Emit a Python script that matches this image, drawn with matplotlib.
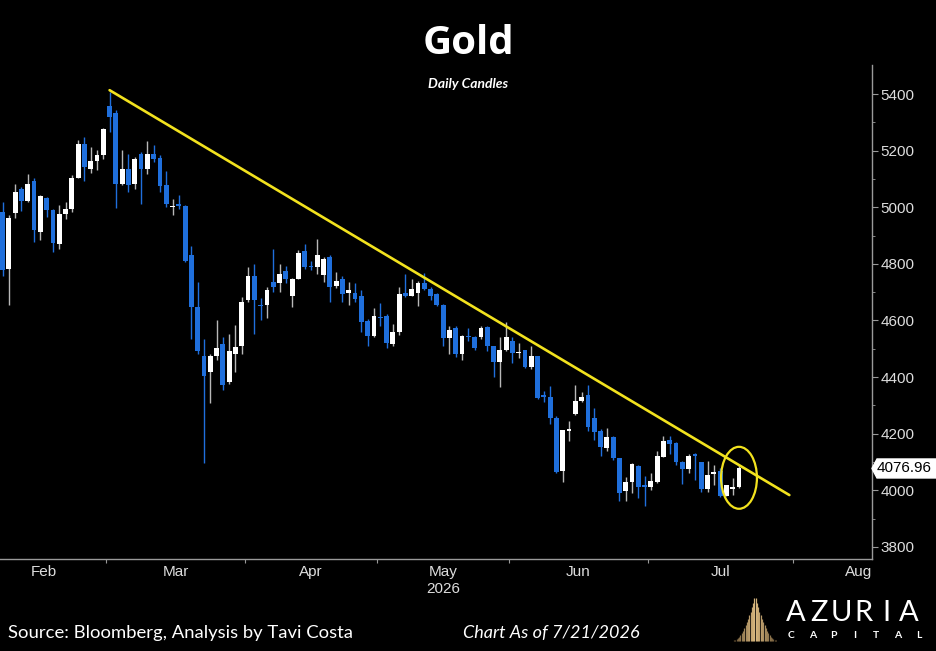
import matplotlib
matplotlib.use('Agg')
import matplotlib.pyplot as plt
import numpy as np
import pandas as pd
from matplotlib.patches import Ellipse, Polygon

# ---------------- data ----------------
opens = [4983, 4783, 4981, 5064, 5022, 5093, 4913, 5034, 4992, 4869,
         4975, 4995, 5104, 5223, 5134, 5163, 5184, 5359, 5332, 5084,
         5137, 5081, 5190, 5134, 5187, 5175, 5078, 5001, 5011, 5005,
         4830, 4647, 4474, 4417, 4476, 4517, 4382, 4481, 4510, 4674,
         4757, 4654, 4656, 4736, 4731, 4775, 4686, 4748, 4845, 4794,
         4789, 4762, 4824, 4721, 4745, 4698, 4698, 4685, 4598, 4544,
         4614, 4617, 4517, 4559, 4697, 4686, 4697, 4733, 4712, 4694,
         4654, 4538, 4574, 4482, 4544, 4540, 4540, 4576, 4511, 4453,
         4494, 4526, 4485, 4494, 4436, 4474, 4338, 4331, 4257, 4069,
         4211, 4270, 4314, 4335, 4257, 4208, 4148, 4189, 4114, 3999,
         4028, 4084, 4020, 4011, 4028, 4119, 4177, 4166, 4099, 4076,
         4129, 4099, 4006, 4057, 4067, 3981, 4004, 4011]
highs = [5019, 4972, 5084, 5072, 5116, 5102, 5043, 5036, 4995, 5007,
         5019, 5113, 5237, 5247, 5213, 5202, 5279, 5408, 5343, 5202,
         5190, 5178, 5196, 5234, 5219, 5184, 5127, 5031, 5042, 5007,
         4865, 4736, 4535, 4482, 4602, 4540, 4552, 4584, 4682, 4789,
         4801, 4680, 4718, 4854, 4801, 4792, 4751, 4848, 4869, 4812,
         4889, 4824, 4830, 4773, 4757, 4736, 4733, 4706, 4606, 4644,
         4663, 4623, 4589, 4718, 4764, 4748, 4741, 4769, 4718, 4697,
         4657, 4582, 4582, 4547, 4574, 4544, 4580, 4580, 4511, 4540,
         4594, 4540, 4519, 4497, 4511, 4476, 4352, 4367, 4263, 4213,
         4243, 4373, 4346, 4373, 4292, 4217, 4220, 4193, 4114, 4047,
         4096, 4090, 4051, 4061, 4140, 4193, 4193, 4169, 4105, 4128,
         4131, 4099, 4105, 4090, 4079, 4020, 4043, 4090]
lows = [4759, 4653, 4962, 4986, 5019, 4877, 4883, 4966, 4842, 4854,
        4960, 4983, 5102, 5093, 5123, 5131, 5170, 5267, 4999, 5078,
        5054, 5064, 5013, 5119, 5160, 5054, 5001, 4972, 4995, 4806,
        4535, 4482, 4098, 4307, 4460, 4355, 4376, 4417, 4481, 4664,
        4552, 4602, 4609, 4700, 4700, 4733, 4647, 4748, 4783, 4777,
        4766, 4736, 4664, 4715, 4664, 4656, 4664, 4559, 4511, 4540,
        4580, 4503, 4511, 4547, 4683, 4686, 4650, 4706, 4671, 4650,
        4511, 4480, 4470, 4460, 4526, 4494, 4535, 4491, 4402, 4366,
        4491, 4448, 4467, 4433, 4430, 4322, 4311, 4233, 4062, 4028,
        4173, 4267, 4311, 4211, 4177, 4122, 4140, 4107, 3961, 3963,
        3992, 3972, 3946, 4000, 4025, 4117, 4128, 4091, 4023, 4061,
        4037, 3994, 3994, 4020, 3976, 3978, 3984, 4008]
closes = [4777, 4962, 5054, 5021, 5081, 4919, 5040, 4989, 4874, 4975,
          4993, 5105, 5225, 5141, 5163, 5184, 5276, 5318, 5084, 5137,
          5078, 5170, 5137, 5190, 5170, 5075, 5013, 5005, 5005, 4812,
          4647, 4491, 4405, 4474, 4503, 4373, 4491, 4507, 4667, 4757,
          4674, 4650, 4706, 4718, 4766, 4746, 4745, 4840, 4789, 4789,
          4830, 4818, 4718, 4738, 4694, 4708, 4677, 4594, 4544, 4615,
          4609, 4519, 4559, 4694, 4688, 4712, 4733, 4712, 4686, 4653,
          4538, 4565, 4482, 4544, 4540, 4504, 4574, 4509, 4453, 4497,
          4540, 4485, 4490, 4436, 4476, 4326, 4328, 4257, 4066, 4213,
          4217, 4314, 4331, 4222, 4207, 4154, 4187, 4114, 3992, 4028,
          4093, 4013, 4011, 4031, 4122, 4175, 4163, 4099, 4076, 4122,
          4122, 4006, 4055, 4063, 3981, 4020, 4013, 4077]
last_price = 4076.96

month_names = ['Feb', 'Mar', 'Apr', 'May', 'Jun', 'Jul', 'Aug']
year_label = '2026'
price_ticks = [3800, 4000, 4200, 4400, 4600, 4800, 5000, 5200, 5400]

# trend line annotation (trading-day index, price) and highlight ellipse
trend_x = [17, 125]
trend_y = [5414, 3983]
circle_center = (117, 4044)
circle_size = (5.7, 219)

# ---------------- calendar ----------------
dates = pd.bdate_range('2026-02-05', '2026-07-21', freq='C', holidays=['2026-04-03'])
calendar = pd.bdate_range('2026-02-02', '2026-08-31', freq='C', holidays=['2026-04-03'])
offset = calendar.get_loc(dates[0])
cal_idx = np.arange(len(calendar)) - offset
cal_months = calendar.to_period('M')
month_centers, month_bounds = [], []
for k, m in enumerate(pd.unique(cal_months)):
    ids = cal_idx[cal_months == m]
    start, end = ids.min() - 0.5, ids.max() + 0.5
    month_centers.append((start + end) / 2)
    if k > 0:
        month_bounds.append(start)

n = len(opens)
x = np.arange(n)
o = np.array(opens, float); h = np.array(highs, float)
l = np.array(lows, float); c = np.array(closes, float)

BLUE = '#1f6fdc'
up = c >= o
body_col = np.where(up, '#ffffff', BLUE)
wick_col = np.where(up, '#b8b8b8', BLUE)

# ---------------- figure ----------------
W, H = 936, 651
fig = plt.figure(figsize=(W / 100, H / 100), dpi=100, facecolor='black')
ax_l, ax_r, ax_t, ax_b = 0, 872, 65, 559
ax = fig.add_axes([ax_l / W, (H - ax_b) / H, (ax_r - ax_l) / W, (ax_b - ax_t) / H])
ax.set_facecolor('black')

ax.vlines(x, l, h, colors=wick_col, linewidth=1.0, zorder=2)
ax.bar(x, np.maximum(np.abs(c - o), 5), bottom=np.minimum(o, c), width=0.76,
       color=body_col, linewidth=0, zorder=3)

ax.plot(trend_x, trend_y, color='#f2e21e', linewidth=1.9, zorder=4, solid_capstyle='round')
ax.add_patch(Ellipse(circle_center, circle_size[0], circle_size[1], fill=False,
                     edgecolor='#f2e21e', linewidth=1.6, zorder=4))

ax.set_xlim(-0.41, 138.13)
ax.set_ylim(3757, 5503)

for s in ['top', 'left']:
    ax.spines[s].set_visible(False)
for s in ['right', 'bottom']:
    ax.spines[s].set_color('#9a9a9a')
    ax.spines[s].set_linewidth(1.0)

tick_font = ['Liberation Sans', 'DejaVu Sans']
ax.yaxis.tick_right()
ax.set_yticks(price_ticks)
ax.set_yticks(np.arange(3800, 5500, 100), minor=True)
ax.set_yticklabels([str(t) for t in price_ticks], fontsize=11, color='#dddddd', family=tick_font)
ax.tick_params(axis='y', which='major', length=4, color='#9a9a9a', pad=2)
ax.tick_params(axis='y', which='minor', length=2.5, color='#9a9a9a')

ax.set_xticks(month_bounds)
ax.set_xticklabels([])
ax.tick_params(axis='x', which='major', length=3, color='#9a9a9a')
ax.set_xticks(month_centers, minor=True)
ax.set_xticklabels(month_names, minor=True, fontsize=11, color='#dddddd', family=tick_font)
ax.tick_params(axis='x', which='minor', length=0, pad=4)

may_center = month_centers[month_names.index('May')]
ax.text(may_center, -30 / (ax_b - ax_t), year_label, transform=ax.get_xaxis_transform(),
        ha='center', va='center', fontsize=11, color='#dddddd', family=tick_font)

# last price tag
fig.canvas.draw()
yc = ax.transData.transform((0, last_price))[1]
tip = ax_r
pts = [(tip, yc), (tip + 5, yc + 9.5), (W, yc + 9.5), (W, yc - 9.5), (tip + 5, yc - 9.5)]
fig.add_artist(Polygon([(px / W, py / H) for px, py in pts], closed=True,
                       transform=fig.transFigure, facecolor='white', edgecolor='white'))
fig.text((tip + 5) / W, yc / H, f'{last_price:.2f}', ha='left', va='center',
         fontsize=11, color='black', family=tick_font)

# titles
title_font = ['Open Sans', 'Lato', 'DejaVu Sans']
text_font = ['Lato', 'DejaVu Sans']
fig.text(0.501, 1 - 43 / H, 'Gold', ha='center', va='center', fontsize=29,
         weight='bold', color='white', family=title_font)
fig.text(0.5, 1 - 84 / H, 'Daily Candles', ha='center', va='center', fontsize=10,
         weight='bold', style='italic', color='white', family=text_font)

fig.text(8 / W, 1 - 633 / H, 'Source: Bloomberg, Analysis by Tavi Costa', ha='left',
         va='center', fontsize=13.3, color='white', family=text_font)
fig.text(463 / W, 1 - 633 / H, 'Chart As of 7/21/2026', ha='left', va='center',
         fontsize=13, style='italic', color='white', family=text_font)

# logo
for i, ch in enumerate('AZURIA'):
    fig.text((796 + i * 22.6) / W, 1 - 613 / H, ch, ha='center', va='center',
             fontsize=21, weight='normal', color='white', family=text_font)
for i, ch in enumerate('CAPITAL'):
    fig.text((791 + i * 21.3) / W, 1 - 636 / H, ch, ha='center', va='center',
             fontsize=7.5, weight='bold', color='white', family=text_font)
lax = fig.add_axes([733 / W, (H - 642) / H, 44 / W, 46 / H])
lax.set_axis_off()
lax.set_xlim(-1, 1); lax.set_ylim(0, 1)
xs = np.linspace(-0.95, 0.95, 34)
hs = (1 - np.abs(xs)) ** 1.9
cols = [(0.40 + 0.45 * (1 - abs(v)), 0.32 + 0.40 * (1 - abs(v)), 0.20 + 0.30 * (1 - abs(v))) for v in xs]
lax.vlines(xs, 0.03, 0.03 + 0.97 * hs, colors=cols, linewidth=0.9)

fig.savefig('out.png', dpi=100, facecolor='black')
